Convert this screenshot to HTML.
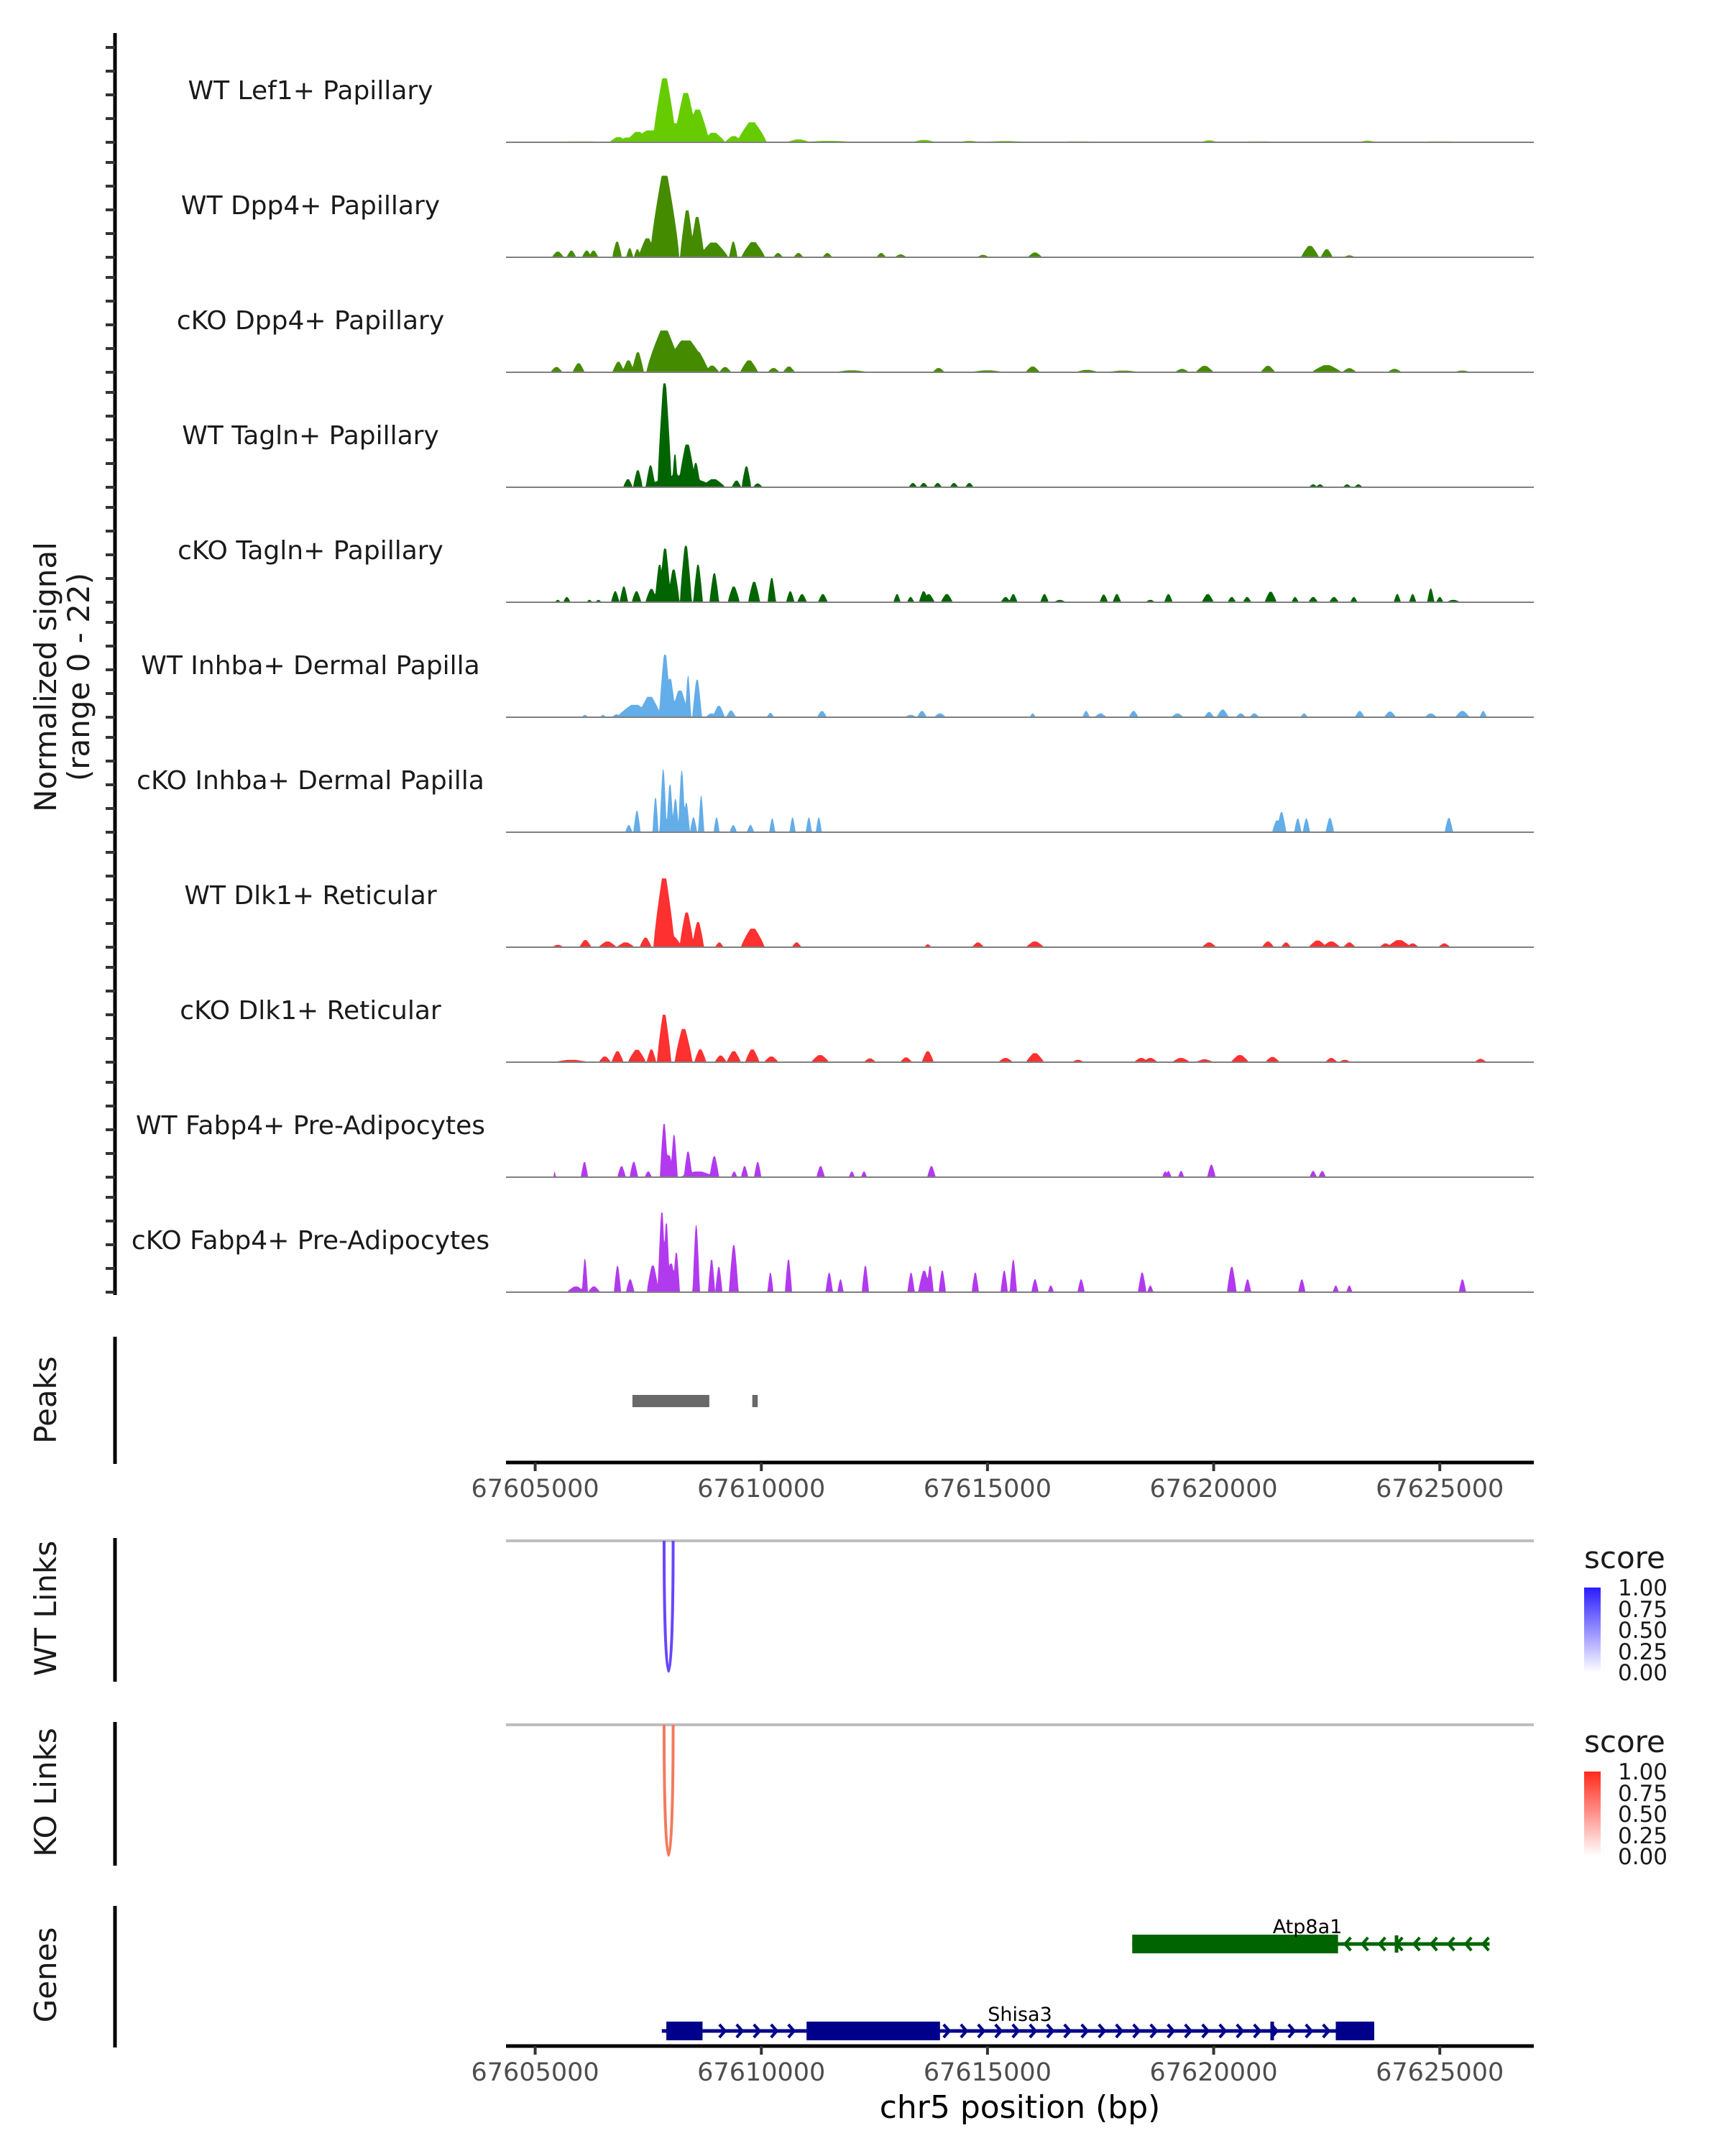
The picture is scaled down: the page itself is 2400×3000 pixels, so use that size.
<!DOCTYPE html>
<html><head><meta charset="utf-8"><style>
html,body{margin:0;padding:0;background:#fff;}
svg{display:block;font-family:"DejaVu Sans","Liberation Sans",sans-serif;}
</style></head><body>
<svg id="chart" width="2400" height="3000" viewBox="0 0 2400 3000" xmlns="http://www.w3.org/2000/svg">
<g id="tracks"></g>
<g id="yaxis"></g>
<text transform="translate(78,942) rotate(-90)" text-anchor="middle" font-size="42" fill="#1a1a1a">Normalized signal</text>
<text transform="translate(124,942) rotate(-90)" text-anchor="middle" font-size="42" fill="#1a1a1a">(range 0 - 22)</text>

<line x1="160" y1="1860" x2="160" y2="2037" stroke="#000" stroke-width="5"/>
<text transform="translate(78,1948) rotate(-90)" text-anchor="middle" font-size="42" fill="#1a1a1a">Peaks</text>
<g id="peaks"></g>
<g id="xaxis1"></g>

<line x1="160" y1="2140" x2="160" y2="2340" stroke="#000" stroke-width="5"/>
<text transform="translate(78,2238) rotate(-90)" text-anchor="middle" font-size="42" fill="#1a1a1a">WT Links</text>
<line x1="704" y1="2144" x2="2134" y2="2144" stroke="#bebebe" stroke-width="4"/>
<g id="wtlinks"></g>

<line x1="160" y1="2396" x2="160" y2="2596" stroke="#000" stroke-width="5"/>
<text transform="translate(78,2494) rotate(-90)" text-anchor="middle" font-size="42" fill="#1a1a1a">KO Links</text>
<line x1="704" y1="2400" x2="2134" y2="2400" stroke="#bebebe" stroke-width="4"/>
<g id="kolinks"></g>

<defs>
<linearGradient id="gb" x1="0" y1="1" x2="0" y2="0"><stop offset="0" stop-color="#ffffff"/><stop offset="1" stop-color="#2a1cff"/></linearGradient>
<linearGradient id="gr" x1="0" y1="1" x2="0" y2="0"><stop offset="0" stop-color="#ffffff"/><stop offset="1" stop-color="#ff2a1c"/></linearGradient>
</defs>
<g font-size="31" fill="#1a1a1a">
<text x="2204" y="2182" font-size="42">score</text>
<rect x="2204" y="2209" width="23" height="118" fill="url(#gb)"/>
<text x="2251" y="2220">1.00</text><text x="2251" y="2250">0.75</text><text x="2251" y="2279">0.50</text><text x="2251" y="2309">0.25</text><text x="2251" y="2338">0.00</text>
</g>
<g font-size="31" fill="#1a1a1a">
<text x="2204" y="2438" font-size="42">score</text>
<rect x="2204" y="2465" width="23" height="118" fill="url(#gr)"/>
<text x="2251" y="2476">1.00</text><text x="2251" y="2506">0.75</text><text x="2251" y="2535">0.50</text><text x="2251" y="2565">0.25</text><text x="2251" y="2594">0.00</text>
</g>

<line x1="160" y1="2652" x2="160" y2="2849" stroke="#000" stroke-width="5"/>
<text transform="translate(78,2748) rotate(-90)" text-anchor="middle" font-size="42" fill="#1a1a1a">Genes</text>
<g id="genes"></g>
<g id="xaxis2"></g>
<text x="1419" y="2947" text-anchor="middle" font-size="44" fill="#000">chr5 position (bp)</text>
</svg>
<script>
// ---- data ----
const trackNames = ["WT Lef1+ Papillary","WT Dpp4+ Papillary","cKO Dpp4+ Papillary","WT Tagln+ Papillary","cKO Tagln+ Papillary","WT Inhba+ Dermal Papilla","cKO Inhba+ Dermal Papilla","WT Dlk1+ Reticular","cKO Dlk1+ Reticular","WT Fabp4+ Pre-Adipocytes","cKO Fabp4+ Pre-Adipocytes"];
const trackColors = ["#66cc00","#458b00","#458b00","#006400","#006400","#63ade9","#63ade9","#ff3030","#ff3030","#b23aee","#b23aee"];
// peaks: [kb offset from 67605000, signal, half-width kb]
const lef1WT = [[2.86,13.5,.2],[3.09,3.7,.15],[3.33,10.4,.2],[3.59,6.9,.2],[4.79,4.2,.25],[3.94,2,.2],[4.39,1.3,.15],[2.27,2.2,.2],[2.54,2.5,.3],[1.84,1.1,.15],[2.03,1,.15],[5.82,.6,.2],[3.1,4,.4],[1.0,.2,.6],[6.5,.3,.5],[8.6,.5,.2],[9.6,.3,.2],[10.4,.25,.5],[14.9,.4,.15],[18.4,.35,.15],[12,.2,.5],[16,.2,.5],[20,.2,.5]];
const dpp4WT = [[2.86,17.2,.25],[3.36,9.9,.12],[3.58,8.5,.12],[2.48,4,.15],[1.81,3.3,.08],[3.94,3.1,.25],[4.38,3.3,.07],[4.82,3.2,.2],[.5,1.2,.1],[.8,1.4,.08],[1.14,1.4,.08],[1.29,1.4,.08],[2.09,1.9,.06],[2.26,1.7,.06],[5.37,.9,.08],[5.82,.9,.08],[6.46,.9,.08],[7.65,.9,.08],[8.08,.6,.1],[17.13,2.4,.15],[17.5,1.7,.1],[11.05,1.0,.12],[9.9,.5,.1],[18.0,.4,.1]];
const dpp4KO = [[2.85,8.8,.3],[3.33,6.7,.4],[3.58,4.3,.2],[2.27,4.2,.1],[1.84,2.2,.1],[2.06,2.5,.1],[.96,1.9,.1],[.47,1.1,.1],[4.73,2.5,.15],[3.91,1.4,.12],[4.2,1.1,.1],[5.61,1.2,.1],[5.27,.9,.1],[8.92,.9,.1],[11.0,1.2,.12],[14.8,1.35,.15],[16.2,1.35,.12],[17.5,1.5,.25],[18.0,.85,.12],[19.0,.7,.12],[14.3,.7,.12],[12.2,.5,.2],[20.5,.35,.15],[7,.4,.3],[10,.4,.3],[13,.35,.3]];
const taglnWT = [[2.86,21.9,.12],[3.36,9,.15],[3.09,7,.05],[3.55,5.1,.08],[2.55,4.6,.08],[2.27,3.6,.08],[4.67,4.4,.08],[2.05,1.7,.08],[3.2,2.5,.6],[3.94,1.7,.2],[4.45,1.4,.08],[4.92,.8,.08],[8.35,.9,.07],[8.59,.9,.07],[8.9,.9,.07],[9.26,.9,.07],[9.6,.9,.07],[17.2,.6,.07],[17.35,.6,.07],[17.95,.6,.07],[18.2,.6,.07]];
const taglnKO = [[3.33,11.9,.1],[2.87,11.3,.1],[2.75,7.9,.08],[3.06,6.9,.1],[3.6,7.9,.08],[3.96,6.1,.08],[4.39,3.3,.1],[4.84,4.3,.1],[5.23,5.1,.07],[1.96,3.3,.07],[1.77,2.3,.07],[2.24,2.3,.08],[2.57,2.8,.1],[5.64,2.3,.07],[5.9,1.7,.08],[6.36,1.7,.08],[8.59,2.3,.08],[8.7,1.7,.1],[9.1,1.7,.1],[8.0,1.7,.06],[8.3,1.1,.06],[10.57,1.7,.07],[10.4,1.1,.08],[11.26,1.7,.07],[11.6,.5,.1],[12.57,1.6,.07],[12.86,1.7,.07],[14.0,1.7,.07],[13.6,.5,.08],[14.87,1.7,.1],[15.4,1.1,.07],[15.74,1.1,.07],[16.26,2.2,.1],[16.8,1.1,.06],[17.2,1.1,.08],[17.66,1.1,.08],[18.1,1.1,.06],[19.06,1.7,.06],[19.4,1.7,.06],[19.8,2.9,.06],[20.0,1.1,.06],[20.3,.5,.12],[.5,.5,.05],[.7,1.1,.06],[1.2,.5,.05],[1.4,.5,.05]];
const inhbaWT = [[2.87,13.2,.1],[2.98,8.1,.1],[3.38,8.7,.05],[3.58,7.9,.08],[3.2,5.6,.15],[2.53,4.3,.2],[2.2,2.6,.3],[4.06,2.4,.1],[4.33,1.4,.08],[3.9,.8,.1],[5.2,.9,.06],[6.34,1.3,.08],[8.55,1.3,.08],[8.95,.8,.1],[8.3,.5,.1],[12.18,1.3,.06],[13.23,1.3,.08],[15.2,1.6,.1],[14.9,1.1,.08],[15.6,.8,.08],[15.9,.8,.08],[18.23,1.3,.08],[18.9,1.2,.1],[20.5,1.3,.12],[20.96,1.3,.06],[11.0,.8,.05],[12.5,.8,.1],[14.2,.8,.1],[17.0,.8,.06],[19.8,.8,.1],[1.1,.5,.05],[1.5,.5,.05],[1.8,.6,.08]];
const inhbaKO = [[2.83,13.2,.06],[3.24,13,.06],[2.66,7.3,.05],[2.98,10,.06],[3.1,7,.06],[3.67,7.7,.05],[3.34,6.2,.06],[3.5,3.1,.06],[2.25,4.5,.06],[2.07,1.5,.06],[4.01,3.1,.05],[4.38,1.5,.06],[4.76,1.5,.06],[5.24,2.9,.05],[5.69,3.1,.05],[6.05,3.1,.05],[6.27,3.1,.05],[16.5,4.2,.08],[16.4,2.5,.08],[16.86,2.9,.06],[17.05,2.9,.06],[17.57,3.0,.07],[20.2,3.0,.07]];
const dlk1WT = [[2.85,14.5,.18],[3.35,7.3,.12],[3.6,5.3,.1],[4.81,3.9,.2],[3.05,2.2,.15],[1.11,1.5,.1],[1.6,1.2,.15],[2.44,2,.1],[2.0,1,.15],[5.78,1,.08],[4.07,1,.07],[8.68,.6,.06],[9.79,1,.1],[11.05,1.2,.15],[14.9,1,.12],[16.2,1.2,.1],[16.6,1,.08],[17.3,1.4,.15],[17.6,1.2,.15],[18.0,1,.1],[19.1,1.5,.2],[18.8,.8,.1],[19.4,.8,.1],[20.1,.8,.1],[.5,.5,.1]];
const dlk1KO = [[2.85,10,.12],[3.28,7,.15],[2.57,2.7,.08],[2.25,2.6,.15],[1.82,2.3,.1],[1.54,1.2,.1],[3.65,2.7,.1],[4.39,2.3,.12],[4.8,2.7,.12],[4.1,1.4,.1],[5.22,1.2,.12],[6.3,1.5,.15],[8.68,2.3,.1],[8.2,1,.1],[7.4,.8,.1],[10.4,.9,.12],[11.05,1.9,.15],[13.4,.9,.12],[13.6,.9,.12],[14.28,.9,.15],[15.58,1.5,.15],[16.3,1.1,.12],[17.6,.9,.1],[20.9,.7,.1],[12.0,.5,.1],[14.8,.6,.15],[17.9,.5,.1],[.8,.5,.3]];
const fabp4WT = [[2.85,11.2,.07],[3.07,8.9,.06],[2.95,4.6,.1],[3.38,5.4,.07],[3.96,4.4,.08],[1.09,3.2,.06],[1.91,2.3,.07],[2.18,3.2,.07],[2.5,1.2,.06],[3.6,1.2,.3],[4.92,3.2,.06],[4.63,2.3,.06],[4.4,1.2,.05],[6.31,2.3,.07],[7.0,1.2,.05],[7.27,1.2,.05],[8.76,2.3,.07],[.43,1.2,.02],[14.0,1.3,.05],[14.28,1.3,.05],[14.95,2.6,.07],[17.2,1.3,.06],[17.4,1.3,.06],[13.93,1.2,.05]];
const fabp4KO = [[2.8,16.8,.07],[2.9,14.5,.06],[3.56,14.1,.06],[4.39,9.9,.08],[3.12,8.3,.06],[3.0,6,.1],[1.1,7,.05],[1.82,5.5,.06],[2.1,2.7,.07],[3.9,6.8,.06],[4.06,5.3,.06],[2.6,5.6,.1],[5.2,4.1,.05],[5.6,6.8,.06],[6.5,4.1,.06],[6.75,2.7,.05],[7.3,5.5,.06],[8.31,4.1,.06],[8.6,4.5,.1],[8.73,5.5,.06],[9.0,4.5,.06],[9.73,4.1,.06],[10.37,4.5,.06],[10.57,6.8,.06],[11.05,2.7,.06],[11.4,1.4,.05],[12.07,2.7,.06],[13.42,4.1,.07],[13.6,1.4,.05],[15.4,5.3,.08],[15.75,2.7,.06],[16.95,2.7,.06],[17.7,1.4,.05],[18.0,1.4,.05],[20.5,2.7,.06],[.9,1.2,.15],[1.3,1.2,.1]];
const trackPeaks = [lef1WT,dpp4WT,dpp4KO,taglnWT,taglnKO,inhbaWT,inhbaKO,dlk1WT,dlk1KO,fabp4WT,fabp4KO];
const xTicks = [67605000,67610000,67615000,67620000,67625000];
const peakRegions = [[67607150,67608850],[67609800,67609920]];
const wtLinks = [[67607850,67608050,0.75]];
const koLinks = [[67607850,67608050,0.5]];
const atp8a1Exons = [[67618200,67622750]];
const atp8a1Span = [67618200,67626100];
const shisa3Exons = [[67607900,67608700],[67611000,67613950],[67622700,67623550]];
const shisa3Span = [67607800,67623550];

// ---- scales ----
const X0 = 744.6, PXKB = 62.93;
const xs = bp => X0 + (bp - 67605000) / 1000 * PXKB;
const PXU = 6.6;
const NS = "http://www.w3.org/2000/svg";
function mk(tag, attrs, parent){const e=document.createElementNS(NS,tag);for(const k in attrs)e.setAttribute(k,attrs[k]);parent.appendChild(e);return e;}

// ---- tracks ----
const gT = document.getElementById('tracks');
const gY = document.getElementById('yaxis');
const ax = mk('line',{x1:160,y1:46,x2:160,y2:1802,stroke:'#000','stroke-width':5},gY);


trackNames.forEach((name,i)=>{
  const base = 198 + 160*i;
  const g = mk('g',{},gT);
  
  
  const peaks = trackPeaks[i];
  let d = 'M704,'+base;
  for(let x=704;x<=2134;x+=1){
    const kb=(x-X0)/PXKB;
    let v=0;
    for(const p of peaks){const hw=(p[2]||0.1)*1.3;const dd=Math.abs(kb-p[0]);const s=Math.min(1,Math.max(0,(hw-dd)/(hw*0.8)));v=Math.max(v,p[1]*Math.pow(s,0.8));}
    v=Math.min(v,22);
    d+=' L'+x+','+(base - v*PXU).toFixed(1);
  }
  d+=' L2134,'+base+' Z';
  const area = mk('path',{d:d,fill:trackColors[i]},g);
  
  
  const bl = mk('line',{x1:704,y1:base,x2:2134,y2:base,stroke:'#7f7f7f','stroke-width':2},g);
  
  
  const lab = mk('text',{x:432,y:base-60,'text-anchor':'middle','font-size':36,fill:'#1a1a1a'},g);
  lab.textContent = name;
  
  
  for(let k=0;k<5;k++){
    const t = mk('line',{x1:147,y1:base-k*33,x2:160,y2:base-k*33,stroke:'#333','stroke-width':4},gY);
    
    
  }
});

// ---- peaks ----
const gP = document.getElementById('peaks');
peakRegions.forEach(r=>{
  const w=Math.max(7,xs(r[1])-xs(r[0]));
  const rc = mk('rect',{x:xs(r[0]),y:1941,width:w,height:17,fill:'#696969'},gP);
  
  
});

// ---- x axes ----
function xAxis(id,y){
  const g=document.getElementById(id);
  const l = mk('line',{x1:704,y1:y,x2:2134,y2:y,stroke:'#000','stroke-width':5},g);
  
  
  xTicks.forEach(t=>{
    const tk = mk('line',{x1:xs(t),y1:y,x2:xs(t),y2:y+12,stroke:'#333','stroke-width':4},g);
    
    
    const tx = mk('text',{x:xs(t),y:y+48,'text-anchor':'middle','font-size':35,fill:'#4d4d4d'},g);
    tx.textContent=String(t);
    
    
  });
}
xAxis('xaxis1',2035);
xAxis('xaxis2',2847);

// ---- links ----
function links(id,arr,y0,col){
  const g=document.getElementById(id);
  arr.forEach(l=>{
    const a=xs(l[0]),b=xs(l[1]),dep=y0+242;
    const p = mk('path',{d:`M${a},${y0} C${a},${dep} ${b},${dep} ${b},${y0}`,fill:'none',stroke:col,'stroke-width':4},g);
    
    
  });
}
links('wtlinks',wtLinks,2144,'#6a45ff');
links('kolinks',koLinks,2400,'#f47a5c');

// ---- genes ----
const gG=document.getElementById('genes');
function gene(name,span,exons,y,col,dir,lx,ly){
  const g=mk('g',{},gG);
  
  
  mk('line',{x1:xs(span[0]),y1:y,x2:xs(span[1]),y2:y,stroke:col,'stroke-width':5},g);
  for(let x=xs(span[0])+12;x<xs(span[1])-4;x+=24){
    const inEx=exons.some(e=>x>=xs(e[0])-4&&x<=xs(e[1])+4);
    if(inEx)continue;
    const pts = dir>0?`${x-4},${y-9} ${x+4},${y} ${x-4},${y+9}`:`${x+4},${y-9} ${x-4},${y} ${x+4},${y+9}`;
    mk('polyline',{points:pts,fill:'none',stroke:col,'stroke-width':4},g);
  }
  exons.forEach(e=>mk('rect',{x:xs(e[0]),y:y-13,width:xs(e[1])-xs(e[0]),height:26,fill:col},g));
  const t=mk('text',{x:lx,y:ly,'text-anchor':'middle','font-size':27,fill:'#000'},g);
  t.textContent=name;
}
gene('Atp8a1',atp8a1Span,atp8a1Exons,2705,'#006400',-1,1819,2690);
mk('line',{x1:1943,y1:2693,x2:1943,y2:2717,stroke:'#006400','stroke-width':5},gG);
gene('Shisa3',shisa3Span,shisa3Exons,2826,'#00008b',1,1419,2812);
mk('line',{x1:1770,y1:2813,x2:1770,y2:2839,stroke:'#00008b','stroke-width':5},gG);
</script>
</body></html>
